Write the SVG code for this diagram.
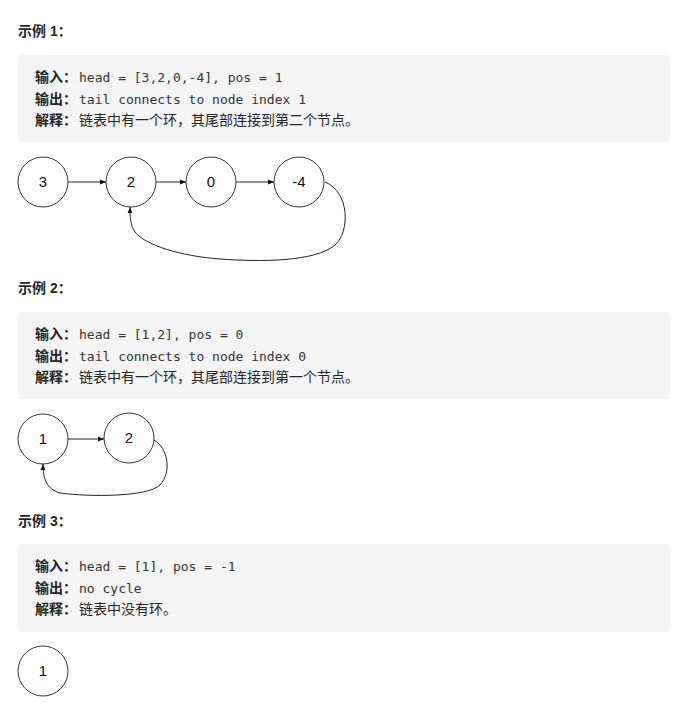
<svg xmlns="http://www.w3.org/2000/svg" width="678" height="720" viewBox="0 0 678 720">
<defs>
<style>
.title{font-family:"Liberation Sans","Noto Sans CJK SC",sans-serif;font-size:14px;font-weight:bold;fill:#262626}
.lbl{font-family:"Noto Sans CJK SC",sans-serif;font-size:14px;font-weight:bold;fill:#262626}
.mono{font-family:"DejaVu Sans Mono","Liberation Mono",monospace;font-size:13px;fill:#333}
.cjk{font-family:"Noto Sans CJK SC",sans-serif;font-size:14px;fill:#262626}
.box{fill:#f4f4f4}
.node circle{fill:#fff;stroke:#333;stroke-width:1}
.node text{font-family:"Liberation Sans",Arial,sans-serif;font-size:15px;fill:#111;text-anchor:middle}
.edge{fill:none;stroke:#222;stroke-width:1;marker-end:url(#arr)}
</style>
<marker id="arr" viewBox="0 0 10 10" refX="10" refY="5" markerWidth="6" markerHeight="6" markerUnits="userSpaceOnUse" orient="auto">
<path d="M0,1 L10,5 L0,9 z" fill="#111"/>
</marker>
</defs>
<rect width="678" height="720" fill="#fff"/>

<g id="example1-text">
<text class="title" x="18" y="36">示例 1：</text>
<rect class="box" x="18" y="55" width="652" height="87" rx="4"/>
<text x="35" y="82"><tspan class="lbl">输入：</tspan><tspan class="mono" x="79">head = [3,2,0,-4], pos = 1</tspan></text>
<text x="35" y="104"><tspan class="lbl">输出：</tspan><tspan class="mono" x="79">tail connects to node index 1</tspan></text>
<text x="35" y="125"><tspan class="lbl">解释：</tspan><tspan class="cjk" x="79">链表中有一个环，其尾部连接到第二个节点。</tspan></text>
</g>

<g id="n1-3" class="node"><circle cx="43" cy="182" r="25"/><text x="43" y="187">3</text></g>
<g id="n1-2" class="node"><circle cx="131" cy="182" r="25"/><text x="131" y="187">2</text></g>
<g id="n1-0" class="node"><circle cx="211" cy="182" r="25"/><text x="211" y="187">0</text></g>
<g id="n1-m4" class="node"><circle cx="299" cy="182" r="25"/><text x="299" y="187">-4</text></g>

<g id="example2-text">
<text class="title" x="18" y="293">示例 2：</text>
<rect class="box" x="18" y="312" width="652" height="87" rx="4"/>
<text x="35" y="339"><tspan class="lbl">输入：</tspan><tspan class="mono" x="79">head = [1,2], pos = 0</tspan></text>
<text x="35" y="361"><tspan class="lbl">输出：</tspan><tspan class="mono" x="79">tail connects to node index 0</tspan></text>
<text x="35" y="382"><tspan class="lbl">解释：</tspan><tspan class="cjk" x="79">链表中有一个环，其尾部连接到第一个节点。</tspan></text>
</g>

<g id="n2-1" class="node"><circle cx="43" cy="439" r="25"/><text x="43" y="444">1</text></g>
<g id="n2-2" class="node"><circle cx="129" cy="438" r="25"/><text x="129" y="443">2</text></g>

<g id="example3-text">
<text class="title" x="18" y="526">示例 3：</text>
<rect class="box" x="18" y="544" width="652" height="88" rx="4"/>
<text x="35" y="571"><tspan class="lbl">输入：</tspan><tspan class="mono" x="79">head = [1], pos = -1</tspan></text>
<text x="35" y="593"><tspan class="lbl">输出：</tspan><tspan class="mono" x="79">no cycle</tspan></text>
<text x="35" y="614"><tspan class="lbl">解释：</tspan><tspan class="cjk" x="79">链表中没有环。</tspan></text>
</g>

<g id="n3-1" class="node"><circle cx="43" cy="671" r="25"/><text x="43" y="676">1</text></g>

<g id="connectors">
<path class="edge" d="M68,182 L106,182"/>
<path class="edge" d="M156,182 L186,182"/>
<path class="edge" d="M236,182 L274,182"/>
<path class="edge" d="M325,182 C350,192 350,232 335,245 C315,262 260,262 220,259 C180,256 145,245 135,232 C130,225 130,215 130,207"/>
<path class="edge" d="M68,439 L104,439"/>
<path class="edge" d="M154,440 C168,448 172,472 160,485 C148,497 90,497 60,493 C46,489 43,478 43,464"/>
</g>
</svg>
